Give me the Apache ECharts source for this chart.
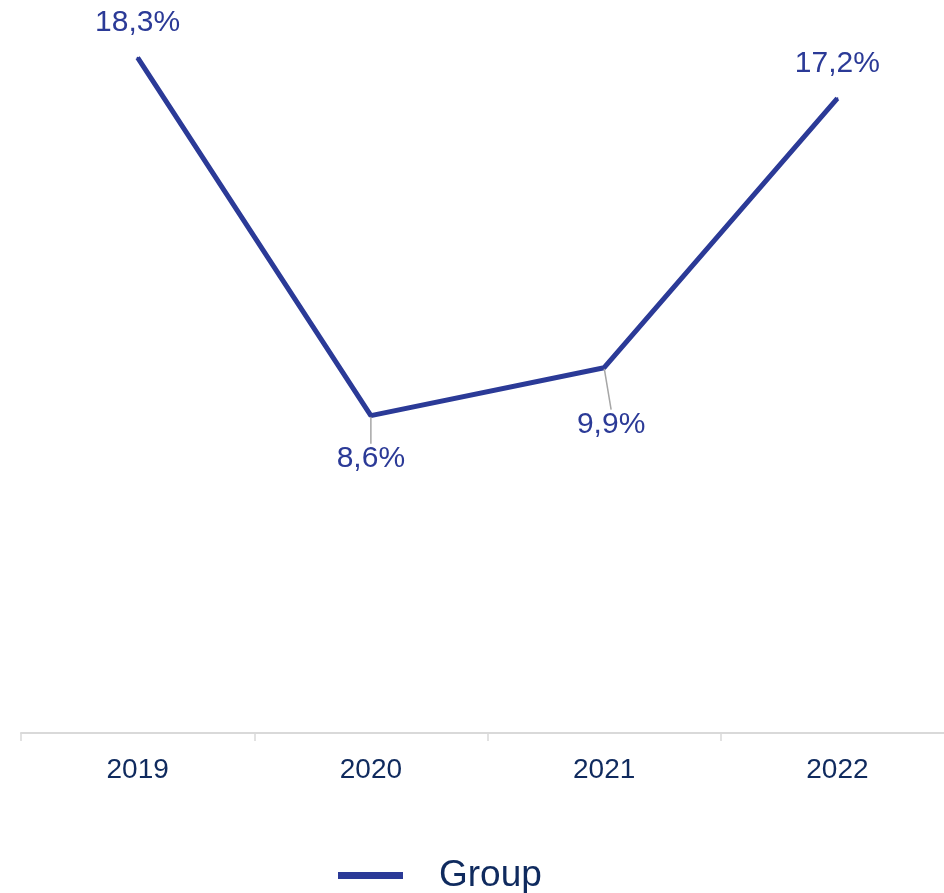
<!DOCTYPE html>
<html>
<head>
<meta charset="utf-8">
<script src="https://cdn.jsdelivr.net/npm/echarts@6/dist/echarts.min.js"></script>
<style>
  html, body { margin: 0; padding: 0; background: #ffffff; }
  #chart { width: 944px; height: 893px; }
</style>
</head>
<body>
<div id="chart"></div>
<script>
// Group result by year (percent)
const years = ['2019', '2020', '2021', '2022'];
const groupValues = [18.3, 8.6, 9.9, 17.2];
const seriesName = 'Group';

// Labels below the line sit lower and are tied back to their point with a short guide
const labelBelow = [false, true, true, false];
const labelShift = [[0, 0], [0, 10], [7, 24], [0, 0]];

const LINE_BLUE = '#2b3a97';
const NAVY = '#0f2a5e';
const FONT = '"Liberation Sans", Arial, sans-serif';

const fmt = v => v.toFixed(1).replace('.', ',') + '%';

const chart = echarts.init(document.getElementById('chart'), null, { renderer: 'canvas' });

chart.setOption({
  animation: false,
  backgroundColor: '#ffffff',
  grid: {
    left: 21, right: -10, top: -5, bottom: 160,
    containLabel: false,
    outerBoundsMode: 'none'
  },
  xAxis: {
    type: 'category',
    data: years,
    boundaryGap: true,
    axisLine: { show: true, lineStyle: { color: '#d9d9d9', width: 2 } },
    axisTick: { show: true, length: 8, lineStyle: { color: '#d9d9d9', width: 1.5 } },
    axisLabel: { color: NAVY, fontSize: 28, fontFamily: FONT, margin: 23 },
    splitLine: { show: false }
  },
  yAxis: {
    type: 'value',
    min: 0,
    max: 20,
    show: false,
    splitLine: { show: false }
  },
  legend: {
    data: [seriesName],
    left: 333,
    top: 852,
    icon: 'rect',
    itemWidth: 65,
    itemHeight: 7,
    textStyle: { color: NAVY, fontSize: 37, fontFamily: FONT, padding: [0, 0, 0, 31] }
  },
  series: [{
    name: seriesName,
    type: 'line',
    data: groupValues.map((v, i) => ({
      value: v,
      label: labelBelow[i]
        ? { position: 'bottom', distance: 5, padding: [12, 0, 0, 0] }
        : { position: 'top', distance: 19 },
      labelLine: { show: labelBelow[i] }
    })),
    symbol: 'circle',
    symbolSize: 2,
    showSymbol: true,
    itemStyle: { color: LINE_BLUE },
    lineStyle: { color: LINE_BLUE, width: 5 },
    label: {
      show: true,
      color: LINE_BLUE,
      fontSize: 30,
      fontFamily: FONT,
      formatter: p => fmt(p.value)
    },
    labelLayout: p => ({ dx: labelShift[p.dataIndex][0], dy: labelShift[p.dataIndex][1] }),
    labelLine: {
      show: true,
      lineStyle: { color: '#a6a6a6', width: 1.5 }
    }
  }]
});
</script>
</body>
</html>
